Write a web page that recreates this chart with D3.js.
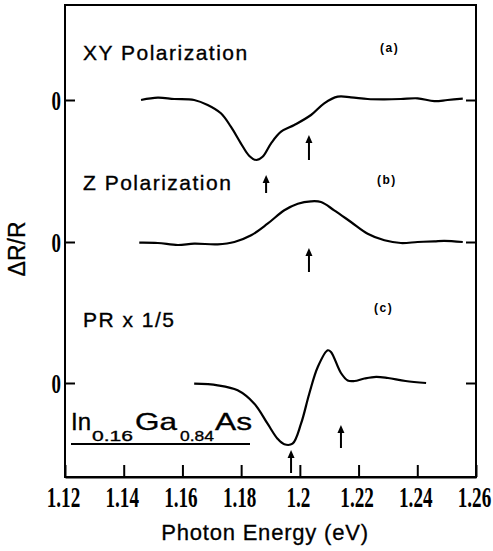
<!DOCTYPE html>
<html>
<head>
<meta charset="utf-8">
<script src="https://cdn.jsdelivr.net/npm/d3@7"></script>
<style>
  html, body { margin: 0; padding: 0; background: #fff; }
  svg { display: block; }
</style>
</head>
<body>
<svg id="chart" width="493" height="551"></svg>
<script>
// ---------- DATA ----------
const xTicks = [1.12, 1.14, 1.16, 1.18, 1.2, 1.22, 1.24, 1.26];
const xTickLabels = ["1.12", "1.14", "1.16", "1.18", "1.2", "1.22", "1.24", "1.26"];

// panel zero offsets (arbitrary ΔR/R units)
const panelNames = ["a", "b", "c"];
const panelOffsets = [0, -14.2, -28.3];
const panelLabels = ["XY Polarization", "Z Polarization", "PR x 1/5"];
const panelTags = ["(a)", "(b)", "(c)"];

// (a) XY polarization
const energyA = [1.1459, 1.1516, 1.1572, 1.1640, 1.1686, 1.1731, 1.1765, 1.1799, 1.1828, 1.1851, 1.1873, 1.1902, 1.1936, 1.1981, 1.2038, 1.2083, 1.2129, 1.2174, 1.2231, 1.2288, 1.2344, 1.2401, 1.2458, 1.2503, 1.2555];
const valueA  = [0, 0.23, 0.1, 0, -0.5, -1.33, -2.67, -4.33, -5.6, -6.0, -5.67, -4.33, -3.17, -2.5, -1.5, -0.33, 0.33, 0.27, 0.1, 0.07, 0.1, 0.17, -0.12, 0, 0.13];

// (b) Z polarization
const energyB = [1.1453, 1.1516, 1.1584, 1.1640, 1.1720, 1.1777, 1.1834, 1.1890, 1.1947, 1.1993, 1.2038, 1.2072, 1.2117, 1.2174, 1.2231, 1.2288, 1.2344, 1.2401, 1.2458, 1.2492, 1.2555];
const valueB  = [-0.07, -0.1, -0.3, -0.17, -0.23, 0, 0.67, 1.83, 3.17, 3.83, 4.07, 4.0, 3.17, 2.0, 0.83, 0.17, -0.1, 0, 0.07, 0.12, 0];

// (c) PR x 1/5
const energyC = [1.1640, 1.1720, 1.1788, 1.1845, 1.1890, 1.1924, 1.1947, 1.1975, 1.2004, 1.2032, 1.2061, 1.2095, 1.2106, 1.2140, 1.2163, 1.2186, 1.2220, 1.2260, 1.2300, 1.2360, 1.2430];
const valueC  = [-0.07, -0.23, -0.73, -2.07, -4.07, -5.57, -6.13, -6.07, -4.07, -1.07, 1.6, 3.27, 3.1, 1.0, 0.25, 0.2, 0.45, 0.62, 0.5, 0.2, 0.0];

// arrows: energy, panel index, tip value, tail value
const arrowEnergy = [1.1885, 1.2031, 1.2031, 1.1970, 1.2140];
const arrowPanel  = [0, 0, 1, 2, 2];
const arrowTip    = [-7.5, -3.5, -0.6, -6.7, -4.2];
const arrowTail   = [-9.3, -6.0, -3.0, -9.0, -6.5];

// composition label pieces
const compText = ["In", "0.16", "Ga", "0.84", "As"];
const compIsSub = [false, true, false, true, false];

// ---------- LAYOUT ----------
const svg = d3.select("#chart");
const L = 65, R = 476, T = 5, B = 477;

const x = d3.scaleLinear().domain([1.12, 1.26]).range([L, R]);
const y = d3.scaleLinear().domain([-37.7, 9.5]).range([B, T]);

// frame
svg.append("rect")
  .attr("x", L).attr("y", T).attr("width", R - L).attr("height", B - T)
  .attr("fill", "none").attr("stroke", "#000").attr("stroke-width", 2);

// x axis (ticks pointing inward)
const xAxis = d3.axisBottom(x)
  .tickValues(xTicks)
  .tickFormat((d, i) => xTickLabels[i])
  .tickSizeInner(-12).tickSizeOuter(0);
const gx = svg.append("g").attr("transform", `translate(0,${B})`).call(xAxis);
gx.select(".domain").attr("stroke", "#000").attr("stroke-width", 2);
gx.selectAll(".tick line").attr("stroke", "#000").attr("stroke-width", 2);
gx.selectAll(".tick text")
  .attr("fill", "#000")
  .attr("font-family", "'Liberation Serif', 'DejaVu Serif', serif")
  .attr("font-weight", "bold")
  .attr("font-size", 29)
  .attr("dy", null)
  .attr("y", 30)
  .attr("x", -2 / 0.66)
  .attr("transform", "scale(0.66,1)");

// y ticks at each panel zero: left and right, inward
const zeroTicks = panelOffsets;
const yAxisL = d3.axisLeft(y).tickValues(zeroTicks).tickFormat(() => "0").tickSizeInner(-10).tickSizeOuter(0);
const gyl = svg.append("g").attr("transform", `translate(${L},0)`).call(yAxisL);
gyl.select(".domain").remove();
gyl.selectAll(".tick line").attr("stroke", "#000").attr("stroke-width", 2);
gyl.selectAll(".tick text")
  .attr("fill", "#000")
  .attr("font-family", "'Liberation Serif', 'DejaVu Serif', serif")
  .attr("font-weight", "bold")
  .attr("font-size", 27)
  .attr("x", -4 / 0.7)
  .attr("dy", "0.34em")
  .attr("text-anchor", "end")
  .attr("transform", "scale(0.7,1)");

const yAxisR = d3.axisRight(y).tickValues(zeroTicks).tickFormat("").tickSizeInner(-10).tickSizeOuter(0);
const gyr = svg.append("g").attr("transform", `translate(${R},0)`).call(yAxisR);
gyr.select(".domain").remove();
gyr.selectAll(".tick line").attr("stroke", "#000").attr("stroke-width", 2);

// curves
const series = [
  { e: energyA, v: valueA, off: panelOffsets[0] },
  { e: energyB, v: valueB, off: panelOffsets[1] },
  { e: energyC, v: valueC, off: panelOffsets[2] }
];
const line = d3.line()
  .x(d => x(d[0]))
  .y(d => y(d[1]))
  .curve(d3.curveCatmullRom.alpha(0.5));
series.forEach(s => {
  const pts = s.e.map((e, i) => [e, s.v[i] + s.off]);
  svg.append("path")
    .attr("d", line(pts))
    .attr("fill", "none")
    .attr("stroke", "#000")
    .attr("stroke-width", 2.2)
    .attr("stroke-linejoin", "round");
});

// arrows
arrowEnergy.forEach((e, i) => {
  const off = panelOffsets[arrowPanel[i]];
  const ax = x(e);
  const yTip = y(arrowTip[i] + off);
  const yTail = y(arrowTail[i] + off);
  svg.append("line")
    .attr("x1", ax).attr("x2", ax)
    .attr("y1", yTip + 4).attr("y2", yTail)
    .attr("stroke", "#000").attr("stroke-width", 2);
  svg.append("path")
    .attr("d", `M${ax},${yTip} L${ax - 3.5},${yTip + 8} L${ax + 3.5},${yTip + 8} Z`)
    .attr("fill", "#000");
});

// panel labels
const labelFont = "'Liberation Sans', Arial, Helvetica, sans-serif";
const labelBaselines = [60, 190, 327];
panelLabels.forEach((t, i) => {
  svg.append("text")
    .attr("x", 83).attr("y", labelBaselines[i])
    .attr("font-family", labelFont)
    .attr("font-size", 21)
    .attr("letter-spacing", 1.5)
    .attr("fill", "#000")
    .attr("stroke", "#000").attr("stroke-width", 0.35)
    .text(t);
});
const tagX = [380, 377, 374];
const tagBaselines = [52, 184, 312];
panelTags.forEach((t, i) => {
  svg.append("text")
    .attr("x", tagX[i]).attr("y", tagBaselines[i])
    .attr("font-family", labelFont)
    .attr("font-size", 12)
    .attr("font-weight", "bold")
    .attr("letter-spacing", 1.5)
    .attr("fill", "#000")
    .text(t);
});

// composition label (each piece stretched to its width in the figure)
const compX = [71, 92, 135, 180, 215];
const compW = [20, 41, 42, 34, 37];
compText.forEach((t, i) => {
  svg.append("text")
    .attr("x", compX[i])
    .attr("y", compIsSub[i] ? 441 : 430)
    .attr("font-family", labelFont)
    .attr("font-size", compIsSub[i] ? 15 : 24)
    .attr("textLength", compW[i])
    .attr("lengthAdjust", "spacingAndGlyphs")
    .attr("fill", "#000")
    .attr("stroke", "#000").attr("stroke-width", 0.35)
    .text(t);
});
svg.append("line")
  .attr("x1", 71).attr("x2", 250).attr("y1", 444).attr("y2", 444)
  .attr("stroke", "#000").attr("stroke-width", 2);

// axis titles
svg.append("text")
  .attr("x", 265).attr("y", 540)
  .attr("text-anchor", "middle")
  .attr("font-family", labelFont)
  .attr("font-size", 22)
  .attr("letter-spacing", 0.8)
  .attr("fill", "#000")
  .attr("stroke", "#000").attr("stroke-width", 0.3)
  .text("Photon Energy (eV)");

svg.append("text")
  .attr("transform", "translate(25,249) rotate(-90)")
  .attr("text-anchor", "middle")
  .attr("font-family", labelFont)
  .attr("font-size", 23)
  .attr("fill", "#000")
  .attr("stroke", "#000").attr("stroke-width", 0.3)
  .text("ΔR/R");
</script>
</body>
</html>
